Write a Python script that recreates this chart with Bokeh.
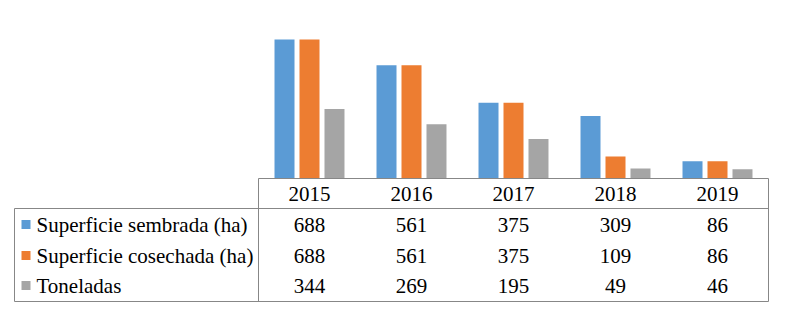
from bokeh.plotting import figure
from bokeh.models import Range1d
from bokeh.core.properties import value
from bokeh.embed import file_html
from bokeh.resources import INLINE

years = ["2015", "2016", "2017", "2018", "2019"]
series_names = ["Superficie sembrada (ha)", "Superficie cosechada (ha)", "Toneladas"]
sembrada = [688, 561, 375, 309, 86]
cosechada = [688, 561, 375, 109, 86]
toneladas = [344, 269, 195, 49, 46]
colors = ["#5B9BD5", "#ED7D31", "#A5A5A5"]

W, H = 787, 328
plot_left, plot_right, base_y = 258, 768, 178
cat_w = (plot_right - plot_left) / len(years)
px_per_unit = 139 / 688.0

def ux(px):
    return (px - plot_left) / cat_w

p = figure(width=W, height=H, output_backend="svg", toolbar_location=None,
           x_range=Range1d(ux(0), ux(W)),
           y_range=Range1d(-(H - base_y) / px_per_unit, base_y / px_per_unit),
           min_border=0, min_border_left=0, min_border_right=0,
           min_border_top=0, min_border_bottom=0)
p.extra_y_ranges = {"px": Range1d(H, 0)}
p.xaxis.visible = False
p.yaxis.visible = False
p.grid.visible = False
p.outline_line_color = None
p.background_fill_color = "white"
p.border_fill_color = "white"

offsets = [-0.245, 0.0, 0.245]
bar_w = 20 / cat_w
for vals, off, col in zip([sembrada, cosechada, toneladas], offsets, colors):
    xs = [i + 0.5 + off for i in range(len(years))]
    p.vbar(x=xs, top=vals, bottom=0, width=bar_w, fill_color=col, line_color=None)

line_col = "#878787"
left_tab = 14
hdr_bottom = 208
tab_bottom = 301
p.segment(x0=[ux(plot_left), ux(left_tab), ux(left_tab)],
          y0=[base_y, hdr_bottom, tab_bottom],
          x1=[ux(plot_right), ux(plot_right), ux(plot_right)],
          y1=[base_y, hdr_bottom, tab_bottom],
          y_range_name="px", line_color=line_col, line_width=1)
p.segment(x0=[ux(plot_left), ux(plot_right), ux(left_tab)],
          y0=[base_y, base_y, hdr_bottom],
          x1=[ux(plot_left), ux(plot_right), ux(left_tab)],
          y1=[tab_bottom, tab_bottom, tab_bottom],
          y_range_name="px", line_color=line_col, line_width=1)

font = value("Liberation Serif")
fs = "21px"
p.text(x=[i + 0.5 for i in range(len(years))], y=[193] * len(years), text=years,
       y_range_name="px", text_font=font, text_font_size=fs,
       text_align="center", text_baseline="middle", text_color="black")

row_y = [224, 255, 285]
for r, (name, vals, col) in enumerate(zip(series_names, [sembrada, cosechada, toneladas], colors)):
    p.rect(x=[ux(25.5)], y=[row_y[r]], width=9, height=9, width_units="screen",
           height_units="screen", y_range_name="px", fill_color=col, line_color=None)
    p.text(x=[ux(36)], y=[row_y[r]], text=[name], y_range_name="px",
           text_font=font, text_font_size=fs, text_align="left",
           text_baseline="middle", text_color="black")
    p.text(x=[i + 0.5 for i in range(len(years))], y=[row_y[r]] * len(years),
           text=[str(v) for v in vals], y_range_name="px",
           text_font=font, text_font_size=fs, text_align="center",
           text_baseline="middle", text_color="black")

open("out.html", "w").write(file_html(p, INLINE))
